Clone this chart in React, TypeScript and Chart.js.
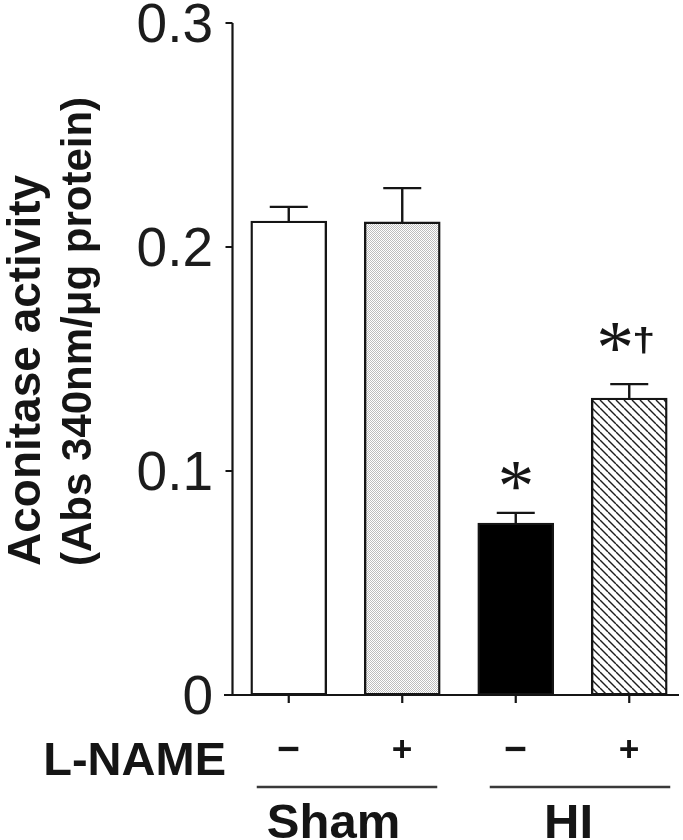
import React, { useEffect, useRef } from 'react';
import { Chart, registerables } from 'chart.js';

Chart.register(...registerables);

// ---------------- data ----------------
const categories = ['Sham −', 'Sham +', 'HI −', 'HI +'];
const lnameLabels = ['−', '+', '−', '+'];
const groupLabels = ['Sham', 'HI'];
const groupMembers = [[0, 1], [2, 3]];
const values = [0.2116, 0.2112, 0.0768, 0.1326];
const errors = [0.0063, 0.0151, 0.0045, 0.0062];
const annotations: string[][] = [[], [], ['*'], ['*', '†']];
const yTicks = [0, 0.1, 0.2, 0.3];
const yTickLabels = ['0', '0.1', '0.2', '0.3'];
const yTitle = ['Aconitase activity', '(Abs 340nm/μg protein)'];
const rowLabel = 'L-NAME';

// ---------------- style ----------------
const W = 700;
const H = 840;
const INK = '#151515';
const SANS = '"Liberation Sans", Arial, Helvetica, sans-serif';
const SERIF = '"Liberation Serif", "Times New Roman", serif';

function makeDots(): CanvasPattern | string {
  const c = document.createElement('canvas');
  c.width = 2;
  c.height = 2;
  const g = c.getContext('2d');
  if (!g) return '#e0e0e0';
  g.fillStyle = '#ffffff';
  g.fillRect(0, 0, 2, 2);
  g.fillStyle = '#bdbdbd';
  g.fillRect(0, 0, 1, 1);
  g.fillRect(1, 1, 1, 1);
  return g.createPattern(c, 'repeat') || '#e0e0e0';
}

function makeHatch(): CanvasPattern | string {
  const s = 8;
  const c = document.createElement('canvas');
  c.width = s;
  c.height = s;
  const g = c.getContext('2d');
  if (!g) return '#aaa';
  g.fillStyle = '#ffffff';
  g.fillRect(0, 0, s, s);
  g.strokeStyle = '#1e1e1e';
  g.lineWidth = 1.4;
  for (const k of [-1, 0, 1]) {
    g.beginPath();
    g.moveTo(k * s, 0);
    g.lineTo(k * s + s, s);
    g.stroke();
  }
  return g.createPattern(c, 'repeat') || '#aaa';
}

// draw a glyph so that its ink box fits the given height (or width), ink-centred on (cx, cy);
// optional targetW stretches horizontally to that ink width.
function drawGlyph(
  ctx: CanvasRenderingContext2D,
  text: string,
  family: string,
  weight: string,
  fit: { h?: number; w?: number; targetW?: number },
  cx: number,
  cy: number
) {
  ctx.save();
  ctx.textAlign = 'left';
  ctx.textBaseline = 'alphabetic';
  ctx.font = `${weight} 100px ${family}`;
  let m = ctx.measureText(text);
  const ih = m.actualBoundingBoxAscent + m.actualBoundingBoxDescent;
  const iw = m.actualBoundingBoxLeft + m.actualBoundingBoxRight;
  let size = 40;
  if (fit.h) size = (100 * fit.h) / (ih || 50);
  else if (fit.w) size = (100 * fit.w) / (iw || 50);
  ctx.font = `${weight} ${size}px ${family}`;
  m = ctx.measureText(text);
  const inkW = m.actualBoundingBoxLeft + m.actualBoundingBoxRight;
  const sx = fit.targetW ? fit.targetW / (inkW || 1) : 1;
  const y = cy + (m.actualBoundingBoxAscent - m.actualBoundingBoxDescent) / 2;
  ctx.translate(cx, y);
  ctx.scale(sx, 1);
  ctx.fillText(text, -(m.actualBoundingBoxRight - m.actualBoundingBoxLeft) / 2, 0);
  ctx.restore();
}

// dagger with explicit size (sans-serif dagger ink centre ≈ 0.3em above baseline)
function drawDagger(ctx: CanvasRenderingContext2D, text: string, size: number, stretch: number, cx: number, cy: number) {
  ctx.save();
  ctx.font = `bold ${size}px ${SANS}`;
  ctx.textAlign = 'center';
  ctx.textBaseline = 'alphabetic';
  ctx.translate(cx, cy + 0.3 * size);
  ctx.scale(stretch, 1);
  ctx.fillText(text, 0, 0);
  ctx.restore();
}

const decorPlugin = {
  id: 'decor',
  afterDatasetsDraw(chart: any) {
    const ctx: CanvasRenderingContext2D = chart.ctx;
    const ys = chart.scales.y;
    const meta = chart.getDatasetMeta(0);
    ctx.save();
    ctx.strokeStyle = INK;
    ctx.fillStyle = INK;
    ctx.lineWidth = 2.4;
    meta.data.forEach((bar: any, i: number) => {
      const x = bar.x;
      const yTop = ys.getPixelForValue(values[i]);
      const yErr = ys.getPixelForValue(values[i] + errors[i]);
      ctx.beginPath();
      ctx.moveTo(x, yTop);
      ctx.lineTo(x, yErr);
      ctx.moveTo(x - 19, yErr);
      ctx.lineTo(x + 19, yErr);
      ctx.stroke();

      const ann = annotations[i];
      if (ann.length === 1) {
        drawGlyph(ctx, ann[0], SERIF, 'normal', { h: 27 }, x, yErr - 36.5);
      } else if (ann.length === 2) {
        drawGlyph(ctx, ann[0], SERIF, 'normal', { h: 28 }, x - 14, yErr - 46.5);
        drawDagger(ctx, ann[1], 33, 1.25, x + 14.5, yErr - 43);
      }
    });
    ctx.restore();
  },
  afterDraw(chart: any) {
    const ctx: CanvasRenderingContext2D = chart.ctx;
    const ys = chart.scales.y;
    const area = chart.chartArea;
    const meta = chart.getDatasetMeta(0);
    const y0 = ys.getPixelForValue(0);
    const yTopAxis = ys.getPixelForValue(0.3);
    const xAxis = area.left + 0.5;
    ctx.save();
    ctx.strokeStyle = INK;
    ctx.fillStyle = INK;
    ctx.lineWidth = 2.2;
    // y axis
    ctx.beginPath();
    ctx.moveTo(xAxis, yTopAxis);
    ctx.lineTo(xAxis, y0);
    yTicks.forEach((v) => {
      const y = ys.getPixelForValue(v);
      ctx.moveTo(xAxis - 7, y);
      ctx.lineTo(xAxis, y);
    });
    // x axis
    ctx.moveTo(area.left - 8, y0);
    ctx.lineTo(679, y0);
    meta.data.forEach((bar: any) => {
      ctx.moveTo(bar.x, y0);
      ctx.lineTo(bar.x, y0 + 8);
    });
    ctx.stroke();

    // y tick labels
    ctx.font = `55px ${SANS}`;
    ctx.fillStyle = '#1c1c1c';
    ctx.textAlign = 'right';
    ctx.textBaseline = 'alphabetic';
    yTicks.forEach((v, i) => {
      const y = ys.getPixelForValue(v);
      const m = ctx.measureText(yTickLabels[i]);
      ctx.fillText(yTickLabels[i], area.left - 19, y + (m.actualBoundingBoxAscent - m.actualBoundingBoxDescent) / 2);
    });

    // y title (two lines, reading bottom-to-top, starting at the same bottom point)
    ctx.fillStyle = INK;
    ctx.textAlign = 'left';
    const titleSizes = [46, 42];
    const baselines = [40, 91];
    yTitle.forEach((t, i) => {
      ctx.save();
      ctx.font = `bold ${titleSizes[i]}px ${SANS}`;
      ctx.translate(baselines[i], 566);
      ctx.rotate(-Math.PI / 2);
      ctx.fillText(t, 0, 0);
      ctx.restore();
    });

    // L-NAME row
    ctx.font = `bold 47px ${SANS}`;
    ctx.textAlign = 'right';
    ctx.fillText(rowLabel, 226, 775);
    meta.data.forEach((bar: any, i: number) => {
      const fit = lnameLabels[i] === '+' ? { h: 18 } : { w: 20 };
      drawGlyph(ctx, lnameLabels[i], SANS, 'bold', fit, bar.x, 749);
    });

    // group lines and labels
    const linePad = [[-32, 35], [-26, 41]];
    const labelShift = [-12, -4];
    ctx.strokeStyle = '#3a3a3a';
    ctx.lineWidth = 2.4;
    groupMembers.forEach((mem, g) => {
      const a = meta.data[mem[0]].x;
      const b = meta.data[mem[1]].x;
      ctx.beginPath();
      ctx.moveTo(a + linePad[g][0], 787);
      ctx.lineTo(b + linePad[g][1], 787);
      ctx.stroke();
      ctx.font = `bold 49px ${SANS}`;
      ctx.textAlign = 'center';
      ctx.fillText(groupLabels[g], (a + b) / 2 + labelShift[g], 838);
    });
    ctx.restore();
  },
};

export default function App() {
  const ref = useRef<HTMLCanvasElement | null>(null);
  useEffect(() => {
    const canvas = ref.current;
    if (!canvas) return;
    const fills = ['#ffffff', makeDots(), '#000000', makeHatch()];
    const chart = new Chart(canvas, {
      type: 'bar',
      data: {
        labels: categories,
        datasets: [
          {
            data: values,
            backgroundColor: fills as any,
            borderColor: INK,
            borderWidth: 2.4,
            borderSkipped: false,
            barThickness: 76,
          },
        ],
      },
      options: {
        responsive: false,
        animation: false,
        devicePixelRatio: 1,
        layout: { padding: { left: 232, right: W - 686, top: 23, bottom: H - 695 } },
        plugins: {
          legend: { display: false },
          tooltip: { enabled: false },
          title: { display: false },
        },
        scales: {
          x: { display: false, offset: true },
          y: { display: false, min: 0, max: 0.3 },
        },
      },
      plugins: [decorPlugin],
    });
    return () => chart.destroy();
  }, []);
  return (
    <div style={{ position: 'fixed', left: 0, top: 0, width: 683, height: 840, overflow: 'hidden', background: '#fff' }}>
      <canvas ref={ref} width={W} height={H} style={{ display: 'block', width: W, height: H }} />
    </div>
  );
}
